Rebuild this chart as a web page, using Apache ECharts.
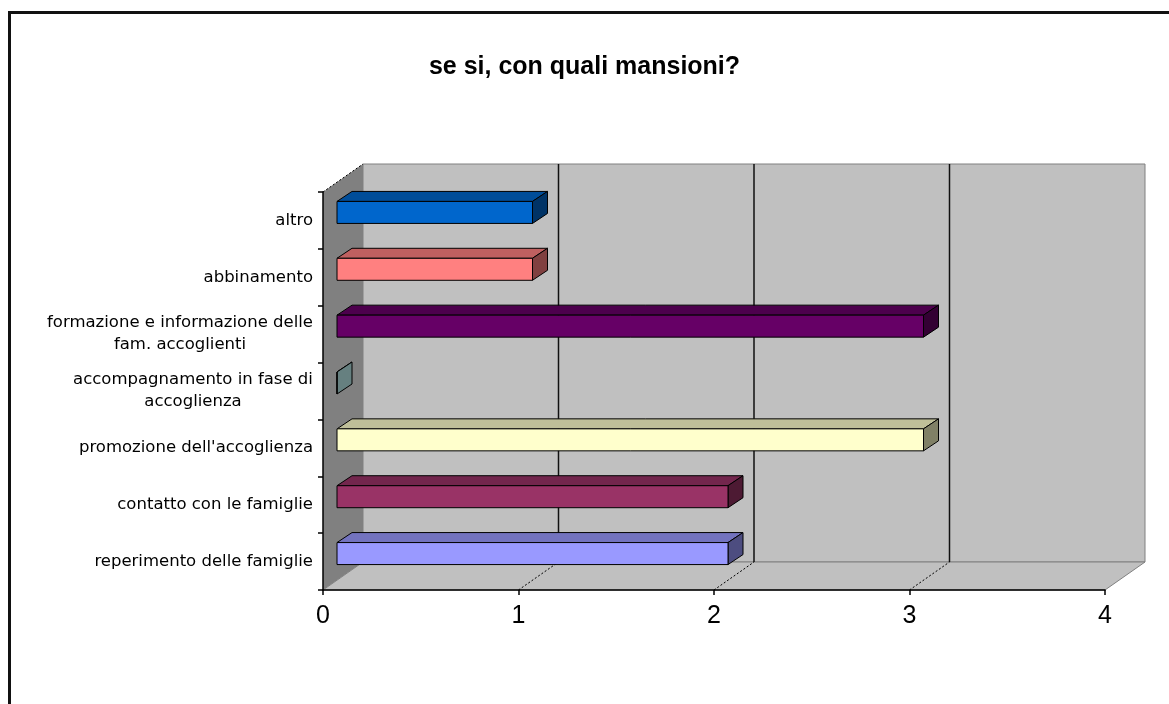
<!DOCTYPE html>
<html>
<head>
<meta charset="utf-8">
<title>se si, con quali mansioni?</title>
<script src="https://cdn.jsdelivr.net/npm/echarts@6/dist/echarts.min.js"></script>
<style>
  html, body { margin: 0; padding: 0; background: #fff; }
  #chart { width: 1169px; height: 704px; }
</style>
</head>
<body>
<div id="chart"></div>
<script>
// dati (dal basso verso l'alto, come nell'asse categorie)
const categories = [
  'reperimento delle famiglie',
  'contatto con le famiglie',
  "promozione dell'accoglienza",
  'accompagnamento in fase di\naccoglienza',
  'formazione e informazione delle\nfam. accoglienti',
  'abbinamento',
  'altro'
];
const values = [2, 2, 3, 0, 3, 1, 1];
const xMin = 0;
const xMax = 4;
const xStep = 1;

// colori stile Excel, uno per barra
const barColors = ['#9999FF', '#993366', '#FFFFCC', '#CCFFFF', '#660066', '#FF8080', '#0066CC'];

// profondita' 3D (pixel)
const DX = 40, DY = -28;      // pareti
const BX = 14;                // spostamento faccia frontale barre
const BDX = 15, BDY = -10;    // spessore barre
const BAR_TOP = -19, BAR_H = 22;

const labelFont = 16.5;
const labelFamily = 'DejaVu Sans';

function shade(hex, k) {
  const n = parseInt(hex.slice(1), 16);
  const r = Math.round(((n >> 16) & 255) * k);
  const g = Math.round(((n >> 8) & 255) * k);
  const b = Math.round((n & 255) * k);
  return 'rgb(' + r + ',' + g + ',' + b + ')';
}

// etichette su due righe: righe centrate nel blocco, blocco allineato a destra
const measureCtx = document.createElement('canvas').getContext('2d');
measureCtx.font = labelFont + 'px "' + labelFamily + '"';
const labelRich = {};
categories.forEach(function (c, i) {
  const lines = c.split('\n');
  if (lines.length > 1) {
    const w = Math.max.apply(null, lines.map(function (l) { return measureCtx.measureText(l).width; }));
    labelRich['m' + i] = {
      width: Math.ceil(w), align: 'center',
      fontSize: labelFont, fontFamily: labelFamily, color: '#000', lineHeight: 22
    };
  }
});

function renderWalls(params, api) {
  const cs = params.coordSys;
  const top = cs.y, bot = cs.y + cs.height;
  const x0 = api.coord([xMin, 0])[0];
  const x4 = api.coord([xMax, 0])[0];
  const children = [];
  // parete sinistra
  children.push({
    type: 'polygon',
    shape: { points: [[x0, top], [x0 + DX, top + DY], [x0 + DX, bot + DY], [x0, bot]] },
    style: { fill: '#808080', stroke: null }
  });
  // parete di fondo
  children.push({
    type: 'rect',
    shape: { x: x0 + DX, y: top + DY, width: x4 - x0, height: bot - top },
    style: { fill: '#C0C0C0', stroke: '#808080', lineWidth: 1 }
  });
  // pavimento
  children.push({
    type: 'polygon',
    shape: { points: [[x0, bot], [x4, bot], [x4 + DX, bot + DY], [x0 + DX, bot + DY]] },
    style: { fill: '#C0C0C0', stroke: '#808080', lineWidth: 1 }
  });
  // bordo superiore parete sinistra
  children.push({
    type: 'line',
    shape: { x1: x0, y1: top, x2: x0 + DX, y2: top + DY },
    style: { stroke: '#000', lineWidth: 1, lineDash: [2, 2] }
  });
  // griglia
  for (let v = xMin + xStep; v < xMax; v += xStep) {
    const x = api.coord([v, 0])[0];
    children.push({
      type: 'line',
      shape: { x1: x + DX, y1: top + DY, x2: x + DX, y2: bot + DY },
      style: { stroke: '#111', lineWidth: 1.5 }
    });
    children.push({
      type: 'line',
      shape: { x1: x, y1: bot, x2: x + DX, y2: bot + DY },
      style: { stroke: '#000', lineWidth: 1, lineDash: [2, 2] }
    });
  }
  return { type: 'group', children: children };
}

function renderBar(params, api) {
  const idx = api.value(1);
  const c0 = api.coord([0, idx]);
  const c1 = api.coord([api.value(0), idx]);
  const fx0 = c0[0] + BX, fx1 = c1[0] + BX;
  const yTop = c0[1] + BAR_TOP, yBot = yTop + BAR_H;
  const col = barColors[idx];
  const line = { stroke: '#000', lineWidth: 1 };
  return {
    type: 'group',
    children: [
      {
        type: 'polygon',
        shape: { points: [[fx0, yTop], [fx1, yTop], [fx1 + BDX, yTop + BDY], [fx0 + BDX, yTop + BDY]] },
        style: Object.assign({ fill: shade(col, 0.75) }, line)
      },
      {
        type: 'polygon',
        shape: { points: [[fx1, yTop], [fx1 + BDX, yTop + BDY], [fx1 + BDX, yBot + BDY], [fx1, yBot]] },
        style: Object.assign({ fill: shade(col, 0.5) }, line)
      },
      {
        type: 'rect',
        shape: { x: fx0, y: yTop, width: fx1 - fx0, height: BAR_H },
        style: Object.assign({ fill: col }, line)
      }
    ]
  };
}

const chart = echarts.init(document.getElementById('chart'), null, { renderer: 'canvas' });
chart.setOption({
  backgroundColor: '#fff',
  animation: false,
  title: {
    text: 'se si, con quali mansioni?',
    left: 'center',
    top: 50,
    textStyle: { fontFamily: 'Liberation Sans', fontSize: 25, fontWeight: 'bold', color: '#000' }
  },
  graphic: [{
    type: 'rect',
    shape: { x: 9.5, y: 12.5, width: 1300, height: 900 },
    style: { fill: null, stroke: '#111', lineWidth: 3 },
    silent: true
  }],
  grid: { left: 323, right: 64, top: 192, bottom: 114, containLabel: false },
  xAxis: {
    type: 'value',
    min: xMin, max: xMax, interval: xStep,
    z: 10,
    axisLine: { show: true, lineStyle: { color: '#000', width: 1.5 } },
    axisTick: { show: true, length: 5, lineStyle: { color: '#000', width: 1.5 } },
    splitLine: { show: false },
    axisLabel: {
      margin: 14,
      fontFamily: "'Liberation Sans Narrow', 'Liberation Sans', sans-serif",
      fontSize: 25,
      color: '#000'
    }
  },
  yAxis: {
    type: 'category',
    data: categories,
    z: 10,
    axisLine: { show: true, lineStyle: { color: '#000', width: 1.5 } },
    axisTick: { show: true, length: 5, lineStyle: { color: '#000', width: 1.5 } },
    splitLine: { show: false },
    axisLabel: {
      margin: 10,
      fontFamily: labelFamily,
      fontSize: labelFont,
      color: '#000',
      lineHeight: 22,
      formatter: function (v, i) {
        const lines = v.split('\n');
        if (lines.length === 1) return v;
        return lines.map(function (l) { return '{m' + i + '|' + l + '}'; }).join('\n');
      },
      rich: labelRich
    }
  },
  series: [
    {
      type: 'custom',
      name: 'pareti',
      silent: true,
      z: 1,
      renderItem: renderWalls,
      data: [[0, 0]]
    },
    {
      type: 'custom',
      name: 'mansioni',
      z: 5,
      renderItem: renderBar,
      encode: { x: 0, y: 1 },
      data: values.map(function (v, i) { return [v, i]; })
    }
  ]
});
</script>
</body>
</html>
